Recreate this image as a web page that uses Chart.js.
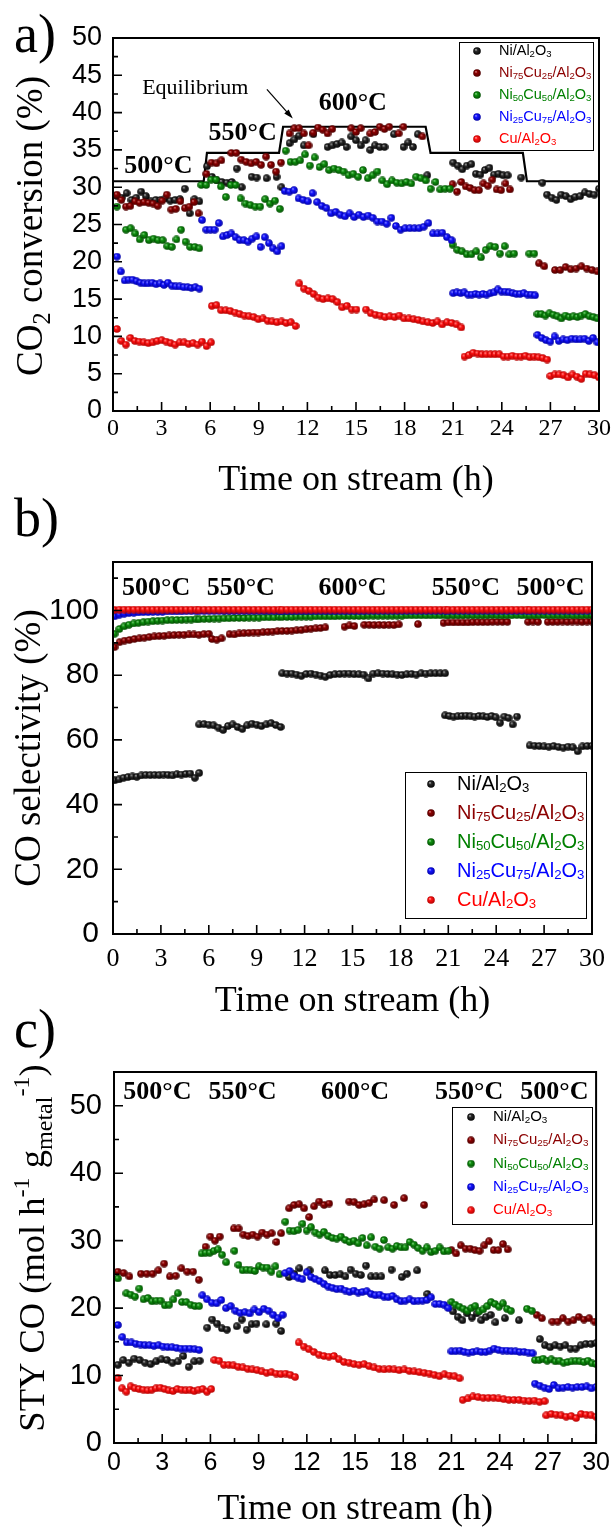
<!DOCTYPE html>
<html>
<head>
<meta charset="utf-8">
<title>Time on stream: CO2 conversion, CO selectivity, STY CO</title>
<script src="https://cdn.jsdelivr.net/npm/chart.js@4.4.1/dist/chart.umd.min.js"></script>
<style>
  html, body { margin: 0; padding: 0; background: #fff; }
  body { position: relative; width: 615px; height: 1533px; overflow: hidden; }
  canvas { position: absolute; left: 0; }
</style>
</head>
<body>
<canvas id="chartA" width="615" height="520" style="top:0"></canvas>
<canvas id="chartB" width="615" height="565" style="top:465px"></canvas>
<canvas id="chartC" width="615" height="533" style="top:1000px"></canvas>
<script>
const SERIF = "'Liberation Serif', 'Times New Roman', serif";
const SANS = "'Liberation Sans', Arial, sans-serif";

const seriesNames = ["Ni/Al2O3", "Ni75Cu25/Al2O3", "Ni50Cu50/Al2O3", "Ni25Cu75/Al2O3", "Cu/Al2O3"];
const seriesColors = ["#000000", "#8b0000", "#008000", "#0000ff", "#ff0000"];
// highlight / body / edge for the shaded markers
const ballShades = [
  ["#c8c8c8", "#2a2a2a", "#000000"],
  ["#e09090", "#8b0000", "#4a0000"],
  ["#9be09b", "#0f8f0f", "#004a00"],
  ["#a8a8ff", "#1414ff", "#0000a0"],
  ["#ffb8b8", "#ff1414", "#b00000"]
];

// each segment: [start h, end h, values sampled evenly in between] (null = missing sample)

// ---- a) CO2 conversion (%)
const convNi = [
  [0.24, 5.33, [28.8, 28.6, 29.2, 28.3, 28.6, 29.4, 28.8, 28.1, 28.3, 28.3, 28.5, 28.2, 28.3, 28.4, 29.8, 26.5, 28.4, 28.1]],
  [5.8, 10.4, [32.8, 31.4, 30.9, 30.7, 30.6, 30.7, 32.5, 30.0, null, 31.4, 31.3, null, 31.2, null, 31.4, 30.0]],
  [10.9, 19.4, [35.9, 36.4, 36.9, 35.6, null, 37.1, null, null, 35.4, 35.6, 35.8, 36.0, 35.4, 36.8, 36.3, 35.6, 36.3, 35.0, 35.6, 35.4, 35.4, null, 37.1, null, 35.4, 36.0, 35.4, 37.1, null, 31.6]],
  [21.0, 25.2, [33.3, 32.9, 32.4, 32.9, 33.1, 31.8, 31.7, 32.3, 32.6, 31.7, 31.8, 31.6, 31.6, null, null, 31.3]],
  [26.5, 30.0, [30.6, 29.0, 28.6, 28.3, 29.0, 28.8, 28.4, 28.7, 28.8, 29.3, 29.1, 29.0, 29.8]]
];
const convNi75 = [
  [0.24, 5.28, [29.0, 28.3, 27.4, 27.5, 28.1, 27.9, 28.0, 27.9, 27.8, 27.5, 28.2, 29.0, 27.0, 27.1, 28.1, 27.2, 27.4, 28.0, 26.5]],
  [5.77, 10.37, [31.8, 33.3, 33.2, 33.6, null, 34.6, 34.6, 33.7, 33.4, 33.2, 33.4, 33.0, 34.1, 33.0, 32.1, 33.3]],
  [10.9, 19.1, [37.2, 37.9, 37.9, 37.2, 35.6, 37.3, 38.0, 37.7, 37.2, 37.8, null, null, null, 37.9, 37.4, 37.9, null, 37.2, 37.4, 38.1, 37.8, 38.1, null, 37.2, 38.1, null, null, null, 36.8]],
  [20.96, 24.5, [30.4, 29.4, 30.7, 30.1, 29.9, 29.6, 29.6, 30.5, 30.2, 31.0, 29.7, 29.6, 30.5, 29.7]],
  [26.3, 29.9, [19.8, 19.4, null, 18.9, 18.9, 19.3, 19.0, 19.1, 19.4, 19.1, 18.9, 18.7]]
];
const convNi50 = [
  [0.24, 5.33, [27.4, null, 24.3, 24.5, 23.8, 23.0, 23.6, 22.9, 23.1, 22.9, 22.9, 22.1, 22.0, 23.0, 24.3, 22.7, 22.0, 22.0, 21.8]],
  [5.45, 10.3, [30.3, 30.3, 31.0, 31.0, 30.1, 28.7, 30.3, 30.3, 28.5, 27.8, 27.6, 27.4, 27.4, 28.4, 27.8, 28.2, 27.1]],
  [10.66, 20.8, [34.9, 33.4, 33.4, 33.6, 34.4, 32.9, 34.0, 32.7, 33.1, 32.3, 32.5, 32.3, 32.1, 31.6, 31.8, 31.4, 32.3, 31.2, 31.6, 32.1, 30.9, 30.4, 30.9, 30.6, 30.5, 30.7, 30.5, 31.4, 31.2, 30.9, 29.8, 30.7, 29.7, 29.8, 29.8]],
  [20.96, 24.76, [22.3, 21.6, 21.4, 21.0, 21.0, 21.4, 20.6, 21.6, 22.1, 22.0, 21.1, 22.1, 21.0, 21.1]],
  [25.7, 26.0, [21.1, 21.1]],
  [26.2, 29.9, [13.0, 13.0, 12.8, 13.1, 12.9, 12.7, 12.4, 12.8, 12.6, 12.7, 12.6, 12.8, 13.0, 12.7, 12.6, 12.4]]
];
const convNi25 = [
  [0.24, 5.33, [20.7, 18.7, 17.5, 17.6, 17.6, 17.4, 17.2, 17.1, 17.1, 17.2, 17.0, 17.1, 16.9, 17.2, 16.8, 16.7, 16.7, 16.6, 16.6, 16.5, 16.6, 16.4]],
  [5.5, 10.4, [25.6, 24.3, 24.3, 24.3, 25.2, 23.4, 23.6, 23.8, 23.3, 22.9, 22.9, 22.7, 23.1, 23.4, 22.0, 23.3, 22.5, 21.8, 21.4, 22.1]],
  [10.6, 20.9, [29.5, 29.4, 29.6, 28.5, 28.3, 28.1, 29.2, 28.0, 27.5, 27.2, 26.5, 26.7, 26.3, 26.1, 26.5, 26.0, 26.3, 26.0, 26.2, 25.9, 25.4, 25.4, 25.1, 25.9, 24.8, 24.3, 24.5, 24.5, 24.5, 24.5, 24.7, 25.2, 23.8, 23.8, 23.9, 23.3, 22.9]],
  [21.0, 26.05, [15.8, 15.9, 15.8, 15.9, 15.6, 15.6, 15.7, 15.6, 15.7, 15.6, 15.8, 15.9, 16.3, 16.0, 16.0, 15.9, 15.8, 15.7, 15.7, 15.8, 15.6, 15.6, 15.5]],
  [26.2, 29.9, [10.2, 9.8, 9.5, 9.3, 10.0, 9.4, 9.6, 9.5, 9.7, 9.6, 9.6, 9.7, 9.4, 9.8, 9.2]]
];
const convCu = [
  [0.24, 6.05, [11.0, 9.4, 8.9, 9.8, 9.4, 9.3, 9.2, 9.1, 9.2, 9.4, 9.5, 9.3, 9.1, 8.9, 9.2, 9.2, 9.0, 9.1, 8.9, 9.3, 8.7, 9.2]],
  [6.1, 11.27, [14.1, 14.2, 13.5, 13.5, 13.4, 13.2, 13.0, 12.8, 12.7, 12.6, 12.3, 12.4, 12.1, 12.0, 11.9, 12.0, 11.8, 11.9, 11.4]],
  [11.5, 21.5, [17.1, 16.4, 16.1, 15.7, 15.2, 15.0, 15.1, 15.0, 14.6, 13.9, 14.1, 13.6, 13.6, null, 13.6, 13.1, 12.9, 12.8, 12.6, 12.7, 12.6, 12.8, 12.4, 12.4, 12.3, 12.2, 12.0, 11.9, 11.8, 12.0, 11.6, 11.9, 11.8, 11.6, 11.2]],
  [21.7, 26.8, [7.3, 7.5, 7.8, 7.7, 7.6, 7.6, 7.6, 7.6, 7.6, 7.3, 7.3, 7.4, 7.3, 7.3, 7.4, 7.2, 7.3, 7.2, 7.1, 6.9]],
  [27.0, 30.0, [4.7, 4.9, 4.9, 4.8, 4.5, 4.9, 4.6, 4.3, 5.0, 4.9, 4.8, 4.5]]
];
const eqTime = [0, 5.6, 5.8, 10.25, 10.5, 19.3, 19.6, 25.3, 25.55, 30];
const eqConv = [30.8, 30.8, 34.6, 34.6, 38.1, 38.1, 34.6, 34.6, 30.8, 30.8];

// ---- b) CO selectivity (%)
const selNi = [
  [0.1, 5.4, [47.5, 47.8, 48.3, 48.5, 48.7, 48.6, 49.0, 49.2, 49.1, 49.2, 49.1, 49.3, 49.2, 49.0, 49.4, 49.3, 49.5, 49.6, 48.3, 49.8]],
  [5.4, 10.5, [64.8, 64.9, 64.7, 64.5, 63.8, 63.1, 64.3, 64.8, 64.0, 63.4, 64.5, 65.0, 64.7, 64.3, 64.8, 65.2, 64.6, 64.0]],
  [10.6, 20.8, [80.6, 80.5, 80.5, 80.2, 79.8, 80.4, 80.5, 80.2, 79.9, 79.5, 80.1, 80.3, 80.4, 80.5, 80.5, 80.3, 80.3, 80.2, 79.0, 80.5, 80.6, 80.5, 80.4, 80.3, 80.2, 80.1, 80.3, 80.4, 80.2, 80.6, 80.5, 80.6, 80.6, 80.6, 80.6]],
  [20.8, 25.3, [67.6, 67.4, 67.2, 67.3, 67.4, 67.5, 67.3, 67.2, 67.4, 67.3, 67.1, 67.4, 67.0, 65.3, 67.2, 66.8, 64.8, 67.2]],
  [26.1, 30.0, [58.3, 58.2, 58.1, 58.0, 57.9, 58.1, 57.8, 57.6, 57.9, 57.7, 56.5, 58.0, 58.1, 58.2]]
];
const selNi75 = [
  [0.1, 6.0, [88.7, 90.2, 90.7, 90.9, 91.2, 91.4, 91.6, 91.8, 92.0, 92.1, 92.2, 92.3, 92.4, 92.5, 92.5, 92.6, 92.6, 92.5, 92.7, 92.8]],
  [6.2, 6.8, [91.2, 91.0, 91.4]],
  [7.3, 13.3, [92.7, 92.6, 92.9, 93.0, 93.1, 93.2, 93.2, 93.3, 93.4, 93.5, 93.6, 93.7, 93.7, 93.8, 93.9, 94.0, 94.2, 94.4, 94.5, 94.6, 94.8]],
  [14.5, 17.9, [95.0, 95.4, 95.2, null, 95.6, 95.6, 95.5, 95.6, 95.5, 95.6, 95.5, 95.7]],
  [19.1, 19.1, [95.8]],
  [20.7, 24.7, [96.2, 96.3, 96.3, 96.3, 96.3, 96.3, 96.4, 96.4, 96.4, 96.4, 96.5, 96.5, 96.5, 96.5]],
  [26.0, 30.0, [96.5, 96.6, 96.5, null, 96.5, 96.5, 96.5, 96.6, 96.5, 96.6, 96.6, 96.5, 96.6, 96.6]]
];
const selNi50 = [
  [0.1, 5.2, [92.8, 94.3, 95.1, 95.6, 96.0, 96.2, 96.4, 96.6, 96.7, 96.8, 96.9, 97.0, 97.0, 97.1, 97.1, 97.2, 97.2, 97.3]],
  [5.4, 10.4, [97.3, 97.4, 97.4, 97.5, 97.5, 97.6, 97.6, 97.7, 97.7, 97.7, 97.8, 97.8, 97.8, 97.9, 97.9, 97.9, 98.0]],
  [10.6, 20.8, [98.0, 98.0, 98.0, 98.1, 98.1, 98.1, 98.1, 98.2, 98.2, 98.2, 98.2, 98.2, 98.3, 98.3, 98.3, 98.3, 98.3, 98.3, 98.4, 98.4, 98.4, 98.4, 98.4, 98.4, 98.4, 98.4, 98.5, 98.5, 98.5, 98.5, 98.5, 98.5, 98.5, 98.5, 98.5]],
  [21.0, 25.9, [98.5, 98.5, 98.5, 98.5, 98.6, 98.5, 98.5, 98.5, 98.5, 98.6, 98.5, 98.5, 98.5, 98.5, 98.6, 98.5, 98.5]],
  [26.1, 30.0, [98.5, 98.5, 98.5, 98.6, 98.5, 98.5, 98.5, 98.5, 98.6, 98.5, 98.5, 98.5, 98.6, 98.5]]
];
const selNi25 = [
  [0.1, 5.2, [98.2, 98.7, 99.0, 99.2, 99.3, 99.4, 99.5, 99.5, 99.6, 99.6, 99.6, 99.7, 99.7, 99.7, 99.7, 99.8, 99.8, 99.8]],
  [5.4, 10.4, [99.8, 99.8, 99.8, 99.8, 99.8, 99.8, 99.8, 99.8, 99.8, 99.8, 99.8, 99.8, 99.8, 99.8, 99.8, 99.8, 99.8]],
  [10.6, 20.8, [99.8, 99.8, 99.8, 99.8, 99.8, 99.8, 99.8, 99.8, 99.8, 99.8, 99.8, 99.8, 99.8, 99.8, 99.8, 99.8, 99.8, 99.8, 99.9, 99.9, 99.9, 99.9, 99.9, 99.9, 99.9, 99.9, 99.9, 99.9, 99.9, 99.9, 99.9, 99.9, 99.9, 99.9, 99.9]],
  [21.0, 25.9, [99.9, 99.9, 99.9, 99.9, 99.9, 99.9, 99.9, 99.9, 99.9, 99.9, 99.9, 99.9, 99.9, 99.9, 99.9, 99.9, 99.9]],
  [26.1, 30.0, [100.0, 100.0, 100.0, 100.0, 100.0, 100.0, 100.0, 100.0, 100.0, 100.0, 100.0, 100.0, 100.0, 100.0]]
];
const selCu = [
  [0.1, 5.2, [100.2, 100.3, 100.3, 100.3, 100.3, 100.3, 100.3, 100.3, 100.3, 100.3, 100.3, 100.3, 100.3, 100.3, 100.3, 100.3, 100.3, 100.3]],
  [5.4, 10.4, [100.3, 100.3, 100.3, 100.3, 100.3, 100.3, 100.3, 100.3, 100.3, 100.3, 100.3, 100.3, 100.3, 100.3, 100.3, 100.3, 100.3]],
  [10.6, 20.8, [100.3, 100.3, 100.3, 100.3, 100.3, 100.3, 100.3, 100.3, 100.3, 100.3, 100.3, 100.3, 100.3, 100.3, 100.3, 100.3, 100.3, 100.3, 100.3, 100.3, 100.3, 100.3, 100.3, 100.3, 100.3, 100.3, 100.3, 100.3, 100.3, 100.3, 100.3, 100.3, 100.3, 100.3, 100.3]],
  [21.0, 25.9, [100.3, 100.3, 100.3, 100.3, 100.3, 100.3, 100.3, 100.3, 100.3, 100.3, 100.3, 100.3, 100.3, 100.3, 100.3, 100.3, 100.3]],
  [26.1, 30.0, [100.3, 100.3, 100.3, 100.3, 100.3, 100.3, 100.3, 100.3, 100.3, 100.3, 100.3, 100.3, 100.3, 100.3]]
];

// ---- c) STY CO (mol h-1 gmetal-1)
const styNi = [
  [0.24, 5.33, [11.6, 12.3, 11.9, 12.5, 12.3, 11.9, 11.7, 12.1, 12.4, 12.3, 11.9, 12.1, 12.9, 11.3, 12.1, 12.2]],
  [5.8, 10.4, [17.1, 18.3, 17.7, 17.0, 16.8, null, 17.3, 18.3, 16.8, 17.6, 17.7, null, 17.6, null, 17.7, 16.6]],
  [10.9, 19.5, [24.6, 25.1, 25.9, null, 25.6, null, null, 25.6, 24.9, 24.9, 25.0, 24.7, 25.7, 25.1, 24.9, 26.3, 24.7, 24.7, 24.7, null, 25.7, null, 24.6, 25.1, null, 25.6, null, 22.1]],
  [21.1, 25.2, [19.5, 18.7, 18.2, 19.2, 18.6, 19.2, 18.2, 18.7, 19.0, 17.9, null, 18.5, null, null, 18.2]],
  [26.5, 30.0, [15.4, 14.5, 14.2, 14.5, 14.3, 14.5, 14.0, 14.0, 14.5, 14.7, 14.7, 14.8]]
];
const styNi75 = [
  [0.24, 5.28, [25.4, 25.2, 24.7, null, 25.1, 25.1, 25.1, 25.6, 26.6, 24.7, 24.8, 25.9, 25.4, 25.4, 24.2]],
  [5.7, 10.4, [29.1, 30.6, 30.0, 30.6, null, null, 31.8, 31.8, 30.9, 30.7, 30.9, 30.6, 31.2, 30.9, 31.1, 29.8, 31.1]],
  [10.9, 19.3, [34.8, 35.3, 35.4, 34.8, 33.5, 35.1, 35.8, 35.3, 35.5, null, null, null, 35.8, 35.7, 35.3, 35.4, 35.6, 36.1, null, 36.0, null, 35.3, null, 36.3, null, null, null, 35.3]],
  [21.0, 24.5, [28.6, 28.1, 29.3, 28.8, 28.8, 28.6, 28.5, 29.3, 29.9, 28.6, 28.6, 29.5, 28.7]],
  [26.3, 29.9, [19.0, 18.5, null, 18.0, 18.0, 18.5, 18.0, 18.2, 18.7, 18.3, 18.5, 18.0]]
];
const styNi50 = [
  [0.24, 5.3, [24.4, null, 22.2, 22.0, 21.7, 22.9, 21.3, 21.5, 21.0, 21.1, 21.1, 20.4, 20.5, 21.3, 22.2, 20.9, 20.9, 20.5, 20.3, 20.3]],
  [5.45, 10.3, [28.1, 28.2, 28.2, 28.5, 28.7, 27.9, 26.8, null, 28.5, 26.4, 25.6, 25.7, 25.6, 25.5, 26.2, 26.0, 26.0, 25.4, 26.2, 25.0]],
  [10.66, 20.8, [32.8, 31.5, 31.4, 31.6, 32.5, 31.5, 32.0, 31.2, 30.9, 31.3, 30.7, 30.4, 30.3, 30.6, 30.1, 29.8, 30.0, 29.6, 30.4, 29.3, 30.5, 29.1, 28.8, 30.1, 29.0, 28.8, 29.2, 29.0, 29.0, 29.8, 29.4, 28.9, 28.5, 29.0, 28.3, 28.5, 29.0, 28.4, 28.5]],
  [21.0, 24.7, [20.9, 20.5, 20.2, 19.9, 19.6, 20.0, 20.3, 19.5, 19.8, 20.3, 20.9, 20.6, 20.2, 20.7, 19.9, 19.6]],
  [25.7, 26.0, [19.9, 19.6]],
  [26.2, 30.0, [12.3, 12.3, 12.5, 12.2, 12.4, 12.1, 12.2, 11.9, 12.0, 12.1, 12.2, 12.1, 12.0, 12.2, 11.8, 11.7]]
];
const styNi25 = [
  [0.24, 5.3, [17.5, 15.7, 14.9, 14.9, 14.7, 14.6, 14.5, 14.5, 14.4, 14.5, 14.3, 14.2, 14.2, 14.1, 14.0, 14.0, 14.0, 13.9, 13.8]],
  [5.5, 10.5, [21.9, 21.3, 20.8, 20.7, 21.2, 20.0, 20.3, 19.6, 19.3, 19.4, 19.2, 19.8, 19.4, 19.9, 19.6, 19.0, 18.5, 19.0]],
  [10.66, 20.8, [25.2, 25.5, 24.8, 24.5, 24.3, 25.3, 24.6, 24.3, 24.0, 23.6, 23.2, 23.0, 22.8, 22.9, 22.6, 22.4, 22.6, 22.3, 22.4, 22.5, 22.1, 21.9, 22.0, 21.7, 21.6, 21.8, 21.3, 21.0, 21.1, 21.3, 21.0, 21.1, 21.1, 21.2, 21.6, 20.6, 20.6, 20.5, 20.0]],
  [21.0, 26.05, [13.6, 13.6, 13.7, 13.5, 13.4, 13.5, 13.6, 13.5, 13.5, 13.7, 14.0, 13.8, 13.7, 13.7, 13.6, 13.6, 13.5, 13.5, 13.4, 13.3]],
  [26.2, 30.0, [8.8, 8.5, 8.2, 8.0, 8.6, 8.1, 8.2, 8.3, 8.2, 8.3, 8.3, 8.4, 8.1, 8.3]]
];
const styCu = [
  [0.24, 6.05, [9.6, 8.1, 7.6, 8.4, 8.1, 8.0, 7.9, 7.8, 7.9, 8.1, 8.2, 8.0, 7.8, 7.7, 8.0, 7.9, 7.8, 7.9, 7.7, 7.9, 8.0, 7.6, 8.0]],
  [6.25, 11.27, [12.3, 12.2, 11.6, 11.6, 11.5, 11.3, 11.2, 11.0, 10.9, 10.8, 10.6, 10.4, 10.5, 10.3, 10.2, 10.3, 10.1, 9.8]],
  [11.5, 21.5, [14.9, 14.3, 13.9, 13.5, 13.1, 12.9, 12.8, 12.9, 12.4, 12.0, 11.9, 11.7, 11.6, 11.7, 11.4, 11.2, 11.0, 10.9, 11.0, 10.9, 10.8, 10.9, 10.7, 10.6, 10.5, 10.4, 10.3, 10.1, 9.9, 10.2, 10.0, 9.9, 9.6]],
  [21.7, 26.8, [6.4, 6.6, 6.9, 6.8, 6.7, 6.7, 6.7, 6.6, 6.5, 6.4, 6.4, 6.4, 6.3, 6.2, 6.3, 6.1, 6.2]],
  [26.9, 30.0, [4.1, 4.3, 4.2, 4.1, 3.9, 4.0, 3.7, 4.3, 4.2, 4.1, 3.9]]
];

// temperature annotations
const tempNamesA = ["500°C", "550°C", "600°C"];
const tempTimeA = [2.8, 8.0, 14.8];
const tempConvA = [32.8, 37.2, 41.2];
const tempNames = ["500°C", "550°C", "600°C", "550°C", "500°C"];
const tempTime = [2.7, 8.0, 15.0, 22.1, 27.4];
const tempSel = [106.8, 106.8, 106.8, 106.8, 106.8];
const tempSty = [52.0, 52.0, 52.0, 52.0, 52.0];


function toPoints(segments) {
  const pts = [];
  segments.forEach(([t0, t1, vals]) => {
    const n = vals.length;
    vals.forEach((v, i) => {
      if (v === null) return;
      pts.push({ x: n > 1 ? t0 + (t1 - t0) * i / (n - 1) : t0, y: v });
    });
  });
  return pts;
}

function makeBall(shade, d) {
  const c = document.createElement("canvas");
  c.width = d;
  c.height = d;
  const g = c.getContext("2d");
  const r = d / 2;
  const grad = g.createRadialGradient(r * 0.7, r * 0.65, 0, r, r, r);
  grad.addColorStop(0, shade[0]);
  grad.addColorStop(0.35, shade[1]);
  grad.addColorStop(1, shade[2]);
  g.fillStyle = grad;
  g.beginPath();
  g.arc(r, r, r - 0.2, 0, Math.PI * 2);
  g.fill();
  return c;
}
const balls = ballShades.map(s => makeBall(s, 8));

// text with sub/superscripts; parts = [[text, 0|-1|1], ...]  (-1 sub, 1 sup)
function richWidth(ctx, parts, size, family) {
  let w = 0;
  parts.forEach(([t, k]) => {
    ctx.font = `${k ? size * 0.66 : size}px ${family}`;
    w += ctx.measureText(t).width;
  });
  return w;
}
function drawRich(ctx, parts, x, y, size, family) {
  let cx = x;
  parts.forEach(([t, k]) => {
    ctx.font = `${k ? size * 0.66 : size}px ${family}`;
    const dy = k === -1 ? size * 0.22 : k === 1 ? -size * 0.4 : 0;
    ctx.fillText(t, cx, y + dy);
    cx += ctx.measureText(t).width;
  });
}
function formulaParts(name) {
  return name.split(/(\d+)/).filter(p => p).map(p => [p, /^\d+$/.test(p) ? -1 : 0]);
}

function decor(cfg) {
  return {
    id: "decor",
    afterDraw(chart) {
      const { ctx, chartArea: a, scales: { x, y } } = chart;
      ctx.save();
      ctx.fillStyle = "#000";
      ctx.strokeStyle = "#000";

      // frame
      ctx.lineWidth = 2;
      ctx.strokeRect(a.left, a.top, a.right - a.left, a.bottom - a.top);

      // inward ticks
      ctx.lineWidth = 1.6;
      ctx.beginPath();
      for (let k = 0; k <= 20; k++) {
        const px = x.getPixelForValue(k * 1.5);
        ctx.moveTo(px, a.bottom);
        ctx.lineTo(px, a.bottom - (k % 2 ? 5 : 9));
      }
      for (let k = 0; k * cfg.yMinor <= cfg.yMax; k++) {
        const py = y.getPixelForValue(k * cfg.yMinor);
        ctx.moveTo(a.left, py);
        ctx.lineTo(a.left + (k % 2 ? 5 : 9), py);
      }
      ctx.stroke();

      // panel letter
      ctx.textAlign = "left";
      ctx.textBaseline = "alphabetic";
      ctx.font = `54px ${SERIF}`;
      ctx.fillText(cfg.letter, 14, cfg.letterY);

      // x title
      ctx.textAlign = "center";
      ctx.font = `36px ${SERIF}`;
      ctx.fillText("Time on stream (h)", (a.left + a.right) / 2, cfg.xTitleY);

      // y title (rotated)
      ctx.save();
      ctx.translate(cfg.yTitleX, cfg.yTitleY);
      ctx.rotate(-Math.PI / 2);
      ctx.textAlign = "left";
      const w = richWidth(ctx, cfg.yTitle, cfg.yTitleSize, SERIF);
      drawRich(ctx, cfg.yTitle, -w / 2, 0, cfg.yTitleSize, SERIF);
      ctx.restore();

      // temperatures
      ctx.textAlign = "center";
      ctx.textBaseline = "middle";
      ctx.font = `bold 26px ${SERIF}`;
      cfg.temps.names.forEach((t, i) => {
        ctx.fillText(t, x.getPixelForValue(cfg.temps.time[i]), y.getPixelForValue(cfg.temps.val[i]));
      });

      // legend
      const L = cfg.legend;
      ctx.fillStyle = "#fff";
      ctx.fillRect(L.x, L.y, L.w, L.h);
      ctx.lineWidth = 1;
      ctx.strokeStyle = "#000";
      ctx.strokeRect(L.x + 0.5, L.y + 0.5, L.w, L.h);
      ctx.textAlign = "left";
      ctx.textBaseline = "middle";
      seriesNames.forEach((name, i) => {
        const ry = L.row0 + i * L.gap;
        ctx.drawImage(balls[i], L.markX - 4, ry - 4);
        ctx.fillStyle = seriesColors[i];
        drawRich(ctx, formulaParts(name), L.textX, ry, L.size, SANS);
      });

      if (cfg.after) cfg.after(chart);
      ctx.restore();
    }
  };
}

function makeChart(id, cfg) {
  const canvas = document.getElementById(id);
  const H = canvas.height;
  const datasets = cfg.series.map((segs, i) => ({
    label: seriesNames[i],
    data: toPoints(segs),
    pointStyle: balls[i],
    pointRadius: 4,
    showLine: false,
    order: 10 - i
  }));
  if (cfg.extra) datasets.push(cfg.extra);
  return new Chart(canvas, {
    type: "scatter",
    data: { datasets },
    options: {
      responsive: false,
      animation: false,
      events: [],
      layout: { padding: { left: 0, right: 615 - cfg.area.right, top: cfg.area.top, bottom: H - cfg.area.bottom - 40 } },
      plugins: { legend: { display: false }, tooltip: { enabled: false } },
      scales: {
        x: {
          type: "linear", min: 0, max: 30,
          grid: { display: false, drawTicks: false },
          border: { display: false },
          ticks: { stepSize: 3, padding: cfg.xPad, color: "#000", maxRotation: 0, font: { family: cfg.xFamily, size: cfg.xSize } },
          afterFit: s => { s.height = 40; }
        },
        y: {
          type: "linear", min: 0, max: cfg.yMax,
          grid: { display: false, drawTicks: false },
          border: { display: false },
          ticks: { stepSize: cfg.yStep, includeBounds: false, padding: cfg.yPad, color: "#000", font: { family: SANS, size: cfg.ySize } },
          afterFit: s => { s.width = cfg.area.left; }
        }
      }
    },
    plugins: [decor(cfg)]
  });
}

// a) conversion  (canvas at page y 0)
makeChart("chartA", {
  area: { left: 113, right: 599, top: 38, bottom: 411 },
  series: [convNi, convNi75, convNi50, convNi25, convCu],
  extra: {
    label: "Equilibrium",
    data: eqTime.map((t, i) => ({ x: t, y: eqConv[i] })),
    showLine: true, pointRadius: 0, borderColor: "#000", borderWidth: 2.2, order: 99
  },
  yMax: 50, yStep: 5, yMinor: 2.5, ySize: 27, yPad: 11,
  xFamily: SERIF, xSize: 24, xPad: 3,
  letter: "a)", letterY: 52,
  xTitleY: 490,
  yTitle: [["CO", 0], ["2", -1], [" conversion (%)", 0]], yTitleX: 42, yTitleY: 226, yTitleSize: 37,
  temps: { names: tempNamesA, time: tempTimeA, val: tempConvA },
  legend: { x: 459, y: 42, w: 134, h: 108, row0: 51, gap: 22, markX: 477, textX: 499, size: 14.5 },
  after(chart) {
    const { ctx, scales: { x, y } } = chart;
    ctx.fillStyle = "#000";
    ctx.strokeStyle = "#000";
    ctx.textAlign = "left";
    ctx.textBaseline = "middle";
    ctx.font = `22px ${SERIF}`;
    ctx.fillText("Equilibrium", x.getPixelForValue(1.8), y.getPixelForValue(43.3));
    const x0 = x.getPixelForValue(9.5), y0 = y.getPixelForValue(43.1);
    const x1 = x.getPixelForValue(11.1), y1 = y.getPixelForValue(39.2);
    const ang = Math.atan2(y1 - y0, x1 - x0);
    ctx.lineWidth = 1.2;
    ctx.beginPath();
    ctx.moveTo(x0, y0);
    ctx.lineTo(x1 - 6 * Math.cos(ang), y1 - 6 * Math.sin(ang));
    ctx.stroke();
    ctx.beginPath();
    ctx.moveTo(x1, y1);
    ctx.lineTo(x1 - 10 * Math.cos(ang - 0.3), y1 - 10 * Math.sin(ang - 0.3));
    ctx.lineTo(x1 - 10 * Math.cos(ang + 0.3), y1 - 10 * Math.sin(ang + 0.3));
    ctx.closePath();
    ctx.fill();
  }
});

// b) selectivity  (canvas at page y 465)
makeChart("chartB", {
  area: { left: 113, right: 598, top: 97, bottom: 469 },
  series: [selNi, selNi75, selNi50, selNi25, selCu],
  yMax: 115, yStep: 20, yMinor: 10, ySize: 30, yPad: 14,
  xFamily: SERIF, xSize: 26, xPad: 10,
  letter: "b)", letterY: 71,
  xTitleY: 546,
  yTitle: [["CO selectivity (%)", 0]], yTitleX: 40, yTitleY: 283, yTitleSize: 37,
  temps: { names: tempNames, time: tempTime, val: tempSel },
  legend: { x: 405, y: 307, w: 181, h: 146, row0: 319, gap: 29, markX: 431, textX: 457, size: 20 },
});

// c) STY CO  (canvas at page y 1000)
makeChart("chartC", {
  area: { left: 114, right: 599, top: 72, bottom: 443 },
  series: [styNi, styNi75, styNi50, styNi25, styCu],
  yMax: 55, yStep: 10, yMinor: 5, ySize: 29, yPad: 12,
  xFamily: SANS, xSize: 25, xPad: 5,
  letter: "c)", letterY: 47,
  xTitleY: 519,
  yTitle: [["STY CO (mol h", 0], ["-1", 1], [" g", 0], ["metal", -1], ["-1", 1], [")", 0]], yTitleX: 44, yTitleY: 248, yTitleSize: 36.5,
  temps: { names: tempNames, time: tempTime, val: tempSty },
  legend: { x: 452, y: 107, w: 140, h: 117, row0: 117, gap: 23.3, markX: 471, textX: 493, size: 15 },
});
</script>
</body>
</html>
